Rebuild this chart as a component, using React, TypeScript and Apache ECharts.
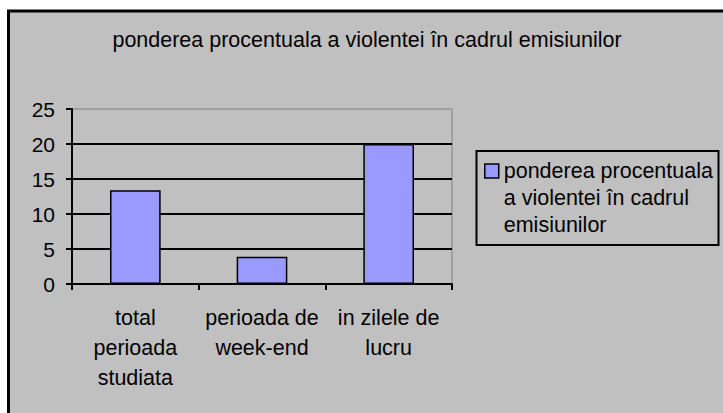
import React, { useEffect, useRef } from "react";
import * as echarts from "echarts";

const titleText = "ponderea procentuala a violentei în cadrul emisiunilor";
const categories = ["total\nperioada\nstudiata", "perioada de\nweek-end", "in zilele de\nlucru"];
const seriesName = "ponderea procentuala\na violentei în cadrul\nemisiunilor";
const values = [13.4, 3.9, 20];
const yMin = 0;
const yMax = 25;
const yInterval = 5;

export default function App() {
  const ref = useRef<HTMLDivElement>(null);
  useEffect(() => {
    const chart = echarts.init(ref.current!, null, { renderer: "svg" });
    const font = "'Liberation Sans', Arial, sans-serif";
    chart.setOption({
      animation: false,
      backgroundColor: "#ffffff",
      textStyle: { fontFamily: font },
      graphic: [
        {
          type: "rect",
          z: -10,
          silent: true,
          shape: { x: 8.5, y: 11, width: 800, height: 500 },
          style: { fill: "#c0c0c0", stroke: "#000", lineWidth: 3 },
        },
        {
          type: "rect",
          z: 10,
          silent: true,
          shape: { x: 476.5, y: 151, width: 242, height: 94 },
          style: { fill: "none", stroke: "#000", lineWidth: 2 },
        },
      ],
      title: {
        text: titleText,
        left: 367,
        top: 29,
        padding: 0,
        textAlign: "center",
        textStyle: { fontFamily: font, fontSize: 21.5, lineHeight: 22, fontWeight: "normal", color: "#000" },
      },
      legend: {
        left: 484,
        top: 103.5,
        padding: 0,
        orient: "vertical",
        itemWidth: 14,
        itemHeight: 14,
        icon: "rect",
        selectedMode: false,
        formatter: (name: string) => "\n\n" + name,
        itemStyle: { borderColor: "#000", borderWidth: 1.5 },
        textStyle: {
          fontFamily: font,
          fontSize: 21.5,
          lineHeight: 27,
          color: "#000",
        },
      },
      grid: {
        left: 72,
        right: 271,
        top: 109,
        bottom: 129,
        show: true,
        borderColor: "#808080",
        borderWidth: 1,
        backgroundColor: "transparent",
      },
      xAxis: {
        type: "category",
        data: categories,
        axisLine: { show: true, lineStyle: { color: "#000", width: 2 } },
        axisTick: { show: true, length: 6, lineStyle: { color: "#000", width: 2 } },
        axisLabel: {
          interval: 0,
          color: "#000",
          fontFamily: font,
          fontSize: 21.5,
          lineHeight: 30,
          margin: 19,
        },
        splitLine: { show: false },
      },
      yAxis: {
        type: "value",
        min: yMin,
        max: yMax,
        interval: yInterval,
        axisLine: { show: true, lineStyle: { color: "#000", width: 2 } },
        axisTick: { show: true, length: 6, lineStyle: { color: "#000", width: 2 } },
        axisLabel: { color: "#000", fontFamily: font, fontSize: 21, margin: 17 },
        splitLine: {
          show: true,
          lineStyle: {
            color: ["#000", "#000", "#000", "#000", "#000", "rgba(0,0,0,0)"],
            width: 2,
          },
        },
      },
      series: [
        {
          type: "bar",
          name: seriesName,
          data: values,
          barWidth: "40%",
          itemStyle: { color: "#9999ff", borderColor: "#000", borderWidth: 1.5 },
        },
      ],
    });
    return () => chart.dispose();
  }, []);
  return (
    <div
      ref={ref}
      style={{ position: "fixed", left: 0, top: 0, width: 723, height: 413 }}
    />
  );
}
